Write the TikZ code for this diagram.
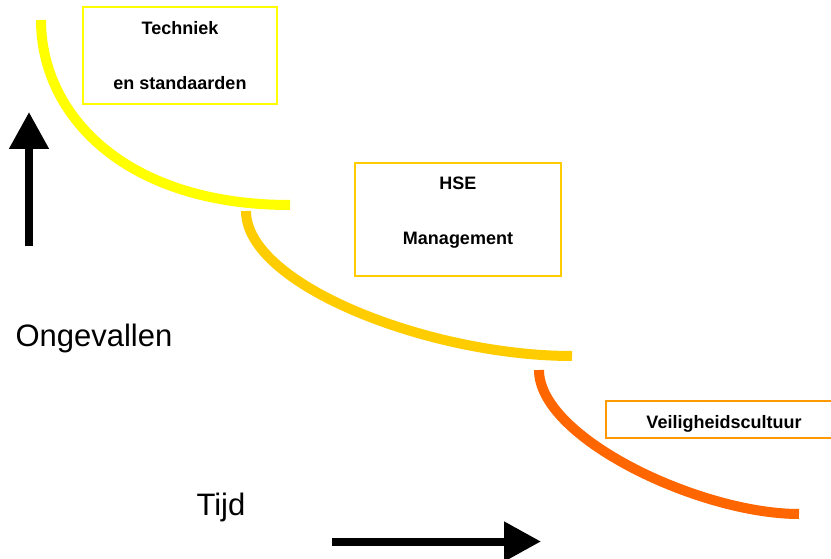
\documentclass[tikz,border=0pt]{standalone}
\usepackage{fontspec}
\setmainfont{Liberation Sans}
\usetikzlibrary{arrows.meta}

\definecolor{geel}{HTML}{FFFF00}
\definecolor{goud}{HTML}{FFCC00}
\definecolor{oranje}{HTML}{FF6600}
\definecolor{lichtoranje}{HTML}{FF9900}

\tikzset{
  kader/.style={draw=#1, line width=2pt, inner sep=0pt},
  boxtekst/.style={font=\fontsize{18}{22}\selectfont\bfseries, anchor=base},
  astekst/.style={font=\fontsize{31}{37}\selectfont, anchor=base west},
  trap/.style={draw=#1, line width=10pt},
  pijl/.style={line width=8pt, -{Triangle[length=37pt,width=38pt]}}
}

\begin{document}
\begin{tikzpicture}[x=1pt,y=-1pt]
  \useasboundingbox (0,0) rectangle (831,559);

  % boxes
  \node[kader=geel, minimum width=194pt, minimum height=97pt] (techniek) at (180,55.5) {};
  \node[boxtekst] (techniek-a) at (180,35) {Techniek};
  \node[boxtekst] (techniek-b) at (180,90) {en standaarden};

  \node[kader=goud, minimum width=206pt, minimum height=113pt] (hse) at (458,219.5) {};
  \node[boxtekst] (hse-a) at (458,190) {HSE};
  \node[boxtekst] (hse-b) at (458,245) {Management};

  \node[kader=lichtoranje, minimum width=236pt, minimum height=37pt] (cultuur) at (724,419.5) {};
  \node[boxtekst] (cultuur-a) at (724,428) {Veiligheidscultuur};

  % curves
  \draw[trap=geel] (41,20) .. controls (41,115) and (125,205) .. (290,205);
  \draw[trap=goud] (246,211) .. controls (246,285) and (430,356) .. (572,356);
  \draw[trap=oranje] (539,370) .. controls (539,438) and (700,514) .. (799,514);

  % axes
  \coordinate (ongevallen-van) at (29,246);
  \coordinate (ongevallen-naar) at (29,112);
  \draw[pijl] (ongevallen-van) -- (ongevallen-naar);
  \node[astekst] (ongevallen) at (12,346) {Ongevallen};

  \coordinate (tijd-van) at (332,541.5);
  \coordinate (tijd-naar) at (541,541.5);
  \draw[pijl] (tijd-van) -- (tijd-naar);
  \node[astekst] (tijd) at (193,515) {Tijd};
\end{tikzpicture}
\end{document}
